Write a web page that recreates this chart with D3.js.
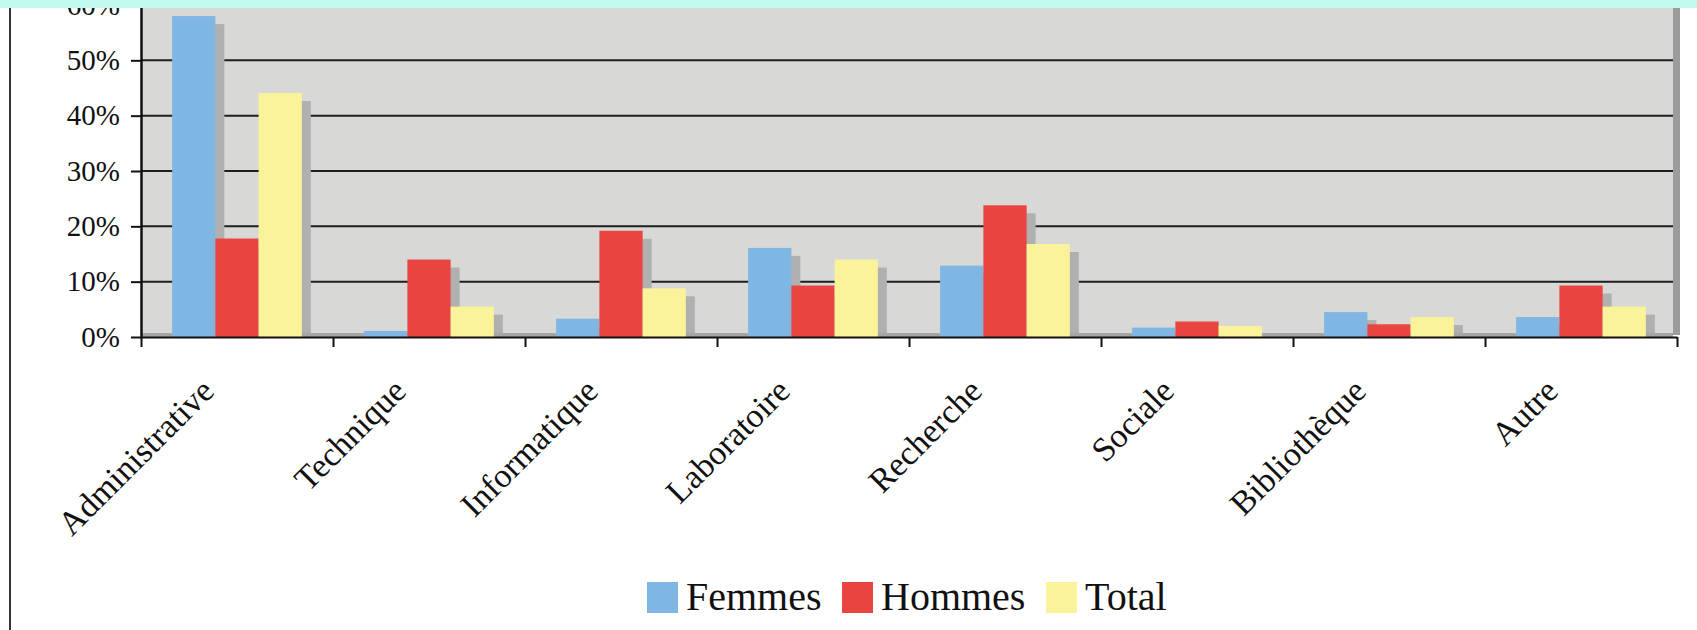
<!DOCTYPE html>
<html>
<head>
<meta charset="utf-8">
<script src="https://cdn.jsdelivr.net/npm/d3@7"></script>
<style>
  body { margin: 0; background: #fff; }
  .axis text { font-family: "Liberation Serif", serif; fill: #111; }
</style>
</head>
<body>
<div class="chart"></div>
<script>
const categories = ["Administrative", "Technique", "Informatique", "Laboratoire", "Recherche", "Sociale", "Bibliothèque", "Autre"];
const series = ["Femmes", "Hommes", "Total"];
const femmes = [58.0, 1.1, 3.3, 16.1, 12.9, 1.7, 4.5, 3.6];
const hommes = [17.8, 14.0, 19.2, 9.3, 23.8, 2.8, 2.3, 9.3];
const total = [44.1, 5.5, 8.8, 14.0, 16.8, 2.0, 3.6, 5.5];
const yTicks = [0, 10, 20, 30, 40, 50, 60];
const colors = ["#80b6e3", "#e84540", "#faf39a"];

const W = 1697, H = 630;
const plot = { left: 141, right: 1677, top: 5, bottom: 337 };

const svg = d3.select(".chart")
  .append("svg")
  .attr("width", W)
  .attr("height", H);

svg.append("rect").attr("width", W).attr("height", H).attr("fill", "#fff");

const x0 = d3.scaleBand()
  .domain(categories)
  .range([plot.left, plot.right]);

const x1 = d3.scaleBand()
  .domain(series)
  .range([0, x0.bandwidth()])
  .paddingOuter(0.72);

const y = d3.scaleLinear()
  .domain([0, 60])
  .range([plot.bottom, plot.top]);

// boundary scale for category ticks
const xb = d3.scaleLinear().domain([0, categories.length]).range([plot.left, plot.right]);

// plot background, right wall and floor
svg.append("rect")
  .attr("x", plot.left).attr("y", 0)
  .attr("width", plot.right - plot.left - 4).attr("height", plot.bottom)
  .attr("fill", "#d8d8d6");

svg.append("rect")
  .attr("x", plot.right - 4).attr("y", 0)
  .attr("width", 7).attr("height", plot.bottom - 2)
  .attr("fill", "#9b9b9b");

svg.append("rect")
  .attr("x", plot.left).attr("y", plot.bottom - 4)
  .attr("width", plot.right - plot.left - 4).attr("height", 4)
  .attr("fill", "#a6a6a6");

// gridlines
svg.append("g")
  .selectAll("line")
  .data(yTicks.filter(d => d > 0))
  .join("line")
  .attr("x1", plot.left).attr("x2", plot.right - 4)
  .attr("y1", d => y(d)).attr("y2", d => y(d))
  .attr("stroke", "#1e1e1e")
  .attr("stroke-width", 2);

const rows = categories.map((c, i) => ({ cat: c, values: [femmes[i], hommes[i], total[i]] }));

const groups = svg.append("g")
  .selectAll("g")
  .data(rows)
  .join("g")
  .attr("transform", d => `translate(${x0(d.cat)},0)`);

// shadows
groups.selectAll(".shadow")
  .data(d => d.values.map((v, k) => ({ s: series[k], v })))
  .join("rect")
  .attr("class", "shadow")
  .attr("x", d => x1(d.s) + 9)
  .attr("y", d => y(d.v) + 8)
  .attr("width", x1.bandwidth())
  .attr("height", d => Math.max(0, plot.bottom - 4 - y(d.v) - 8))
  .attr("fill", "#b0b0b0");

groups.selectAll(".bar")
  .data(d => d.values.map((v, k) => ({ s: series[k], v, k })))
  .join("rect")
  .attr("class", "bar")
  .attr("x", d => x1(d.s))
  .attr("y", d => y(d.v))
  .attr("width", x1.bandwidth())
  .attr("height", d => plot.bottom - y(d.v))
  .attr("fill", d => colors[d.k]);

// y axis
const yAxis = d3.axisLeft(y)
  .tickValues(yTicks)
  .tickSize(10)
  .tickSizeOuter(0)
  .tickPadding(11)
  .tickFormat(d => d + "%");

const gy = svg.append("g")
  .attr("class", "axis")
  .attr("transform", `translate(${plot.left},0)`)
  .call(yAxis);
gy.select(".domain").attr("stroke", "#111").attr("stroke-width", 2.5);
gy.selectAll(".tick line").attr("stroke", "#111").attr("stroke-width", 2);
gy.selectAll(".tick text").attr("font-size", 29);

// x axis with ticks between categories
const xAxis = d3.axisBottom(xb)
  .ticks(categories.length)
  .tickSize(10)
  .tickSizeOuter(0)
  .tickFormat("");

const gx = svg.append("g")
  .attr("class", "axis")
  .attr("transform", `translate(0,${plot.bottom})`)
  .call(xAxis);
gx.select(".domain").attr("stroke", "#111").attr("stroke-width", 2);
gx.selectAll(".tick line").attr("stroke", "#111").attr("stroke-width", 2);

// category labels
svg.append("g")
  .attr("class", "axis")
  .selectAll("text")
  .data(categories)
  .join("text")
  .attr("transform", d => `translate(${x0(d) + x0.bandwidth() / 2 - 21},393) rotate(-45)`)
  .attr("text-anchor", "end")
  .attr("font-size", 34)
  .text(d => d);

// legend
const legendX = [647, 842, 1046];
const legend = svg.append("g")
  .selectAll("g")
  .data(series)
  .join("g")
  .attr("transform", (d, i) => `translate(${legendX[i]},582)`);

legend.append("rect")
  .attr("width", 31).attr("height", 31)
  .attr("fill", (d, i) => colors[i]);

legend.append("text")
  .attr("x", 39).attr("y", 28)
  .attr("font-family", "Liberation Serif, serif")
  .attr("font-size", 40)
  .attr("fill", "#111")
  .text(d => d);

// frame details
svg.append("line")
  .attr("x1", 10).attr("x2", 10)
  .attr("y1", 0).attr("y2", H)
  .attr("stroke", "#333").attr("stroke-width", 2);

svg.append("rect")
  .attr("x", 0).attr("y", 0)
  .attr("width", W).attr("height", 8)
  .attr("fill", "#bff8ec");
</script>
</body>
</html>
